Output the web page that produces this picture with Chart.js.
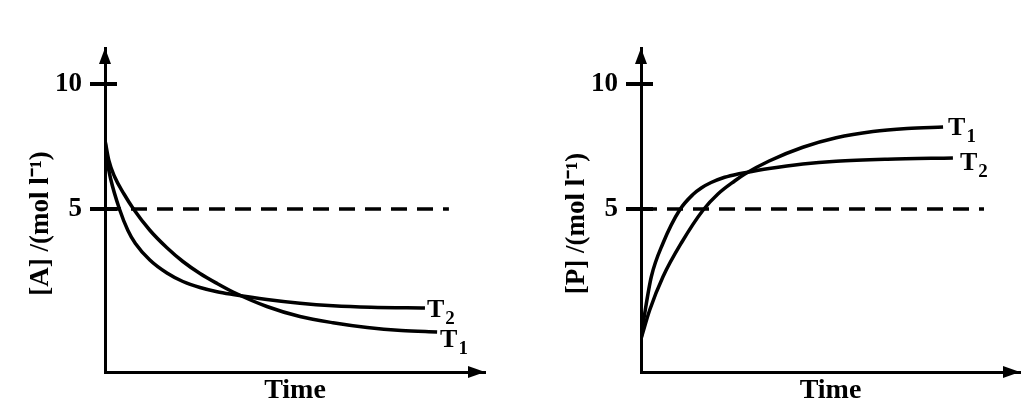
<!DOCTYPE html>
<html lang="en">
<head>
  <meta charset="UTF-8"/>
  <title>[A] and [P] against Time at T1 and T2</title>
  <script src="https://cdn.jsdelivr.net/npm/chart.js"></script>
  <style>
    body { margin: 0; background: #fff; width: 1033px; height: 412px; position: relative; overflow: hidden; }
    .panel { position: absolute; top: 0; }
  </style>
</head>
<body>
  <div class="panel" style="left:0"><canvas id="chartA" width="500" height="412"></canvas></div>
  <div class="panel" style="left:536px"><canvas id="chartP" width="497" height="412"></canvas></div>

  <script>
    // axis settings (arbitrary time units 0..100)
    const yTicks = [5, 10];
    const yMin = -1.52, yMax = 11.44;
    const timeMax = 100;
    const refLevel = 5;       // dashed line
    const refEnd = 90.5;

    // [A] decays
    const timeA1 = [0, 1, 2.5, 5, 7.5, 11.8, 16.3, 20.5, 25, 29.5, 33.7, 42.6, 51.3, 60, 69, 78, 87.4];
    const concA1 = [7.76, 6.95, 6.3, 5.6, 5.0, 4.15, 3.45, 2.9, 2.42, 2.02, 1.68, 1.1, 0.7, 0.45, 0.26, 0.14, 0.08];
    const timeA2 = [0, 0.5, 1.5, 3.8, 6, 8, 11.8, 16.3, 20.5, 25, 29.5, 33.7, 42.6, 51.3, 60, 70, 84.2];
    const concA2 = [7.76, 7.0, 6.2, 5.0, 4.15, 3.62, 2.96, 2.44, 2.1, 1.86, 1.69, 1.58, 1.38, 1.23, 1.13, 1.07, 1.04];

    // [P] grows
    const timeP1 = [0, 2.3, 5.8, 10.6, 16.4, 20.3, 24.7, 27.4, 33.8, 42.7, 51.5, 61.2, 70.2, 79.7];
    const concP1 = [-0.2, 0.96, 2.29, 3.63, 4.96, 5.6, 6.12, 6.4, 6.92, 7.47, 7.85, 8.1, 8.22, 8.28];
    const timeP2 = [0, 1.13, 2.72, 5.8, 10.2, 13.7, 16, 18.5, 21.5, 24.8, 27.4, 33.8, 42.7, 51.5, 65, 82.3];
    const concP2 = [-0.2, 0.96, 2.29, 3.63, 4.96, 5.58, 5.85, 6.06, 6.24, 6.37, 6.45, 6.62, 6.8, 6.91, 6.99, 7.04];

    const serif = '"Liberation Serif", "Times New Roman", serif';
    const pts = (xs, ys) => xs.map((x, i) => ({ x, y: ys[i] }));

    // arrowheads, inner half of the y ticks and the T1/T2 tags
    const axisDecor = {
      id: 'axisDecor',
      afterDraw(chart) {
        const { ctx, chartArea: { left, top, right, bottom }, scales: { y } } = chart;
        ctx.save();
        ctx.fillStyle = '#000';
        ctx.strokeStyle = '#000';

        ctx.beginPath();
        ctx.moveTo(left, top);
        ctx.lineTo(left - 6, top + 16);
        ctx.lineTo(left + 6, top + 16);
        ctx.closePath();
        ctx.fill();

        ctx.beginPath();
        ctx.moveTo(right, bottom);
        ctx.lineTo(right - 17, bottom - 6);
        ctx.lineTo(right - 17, bottom + 6);
        ctx.closePath();
        ctx.fill();

        ctx.lineWidth = 4;
        y.ticks.forEach(t => {
          const py = y.getPixelForValue(t.value);
          ctx.beginPath();
          ctx.moveTo(left, py);
          ctx.lineTo(left + 12, py);
          ctx.stroke();
        });

        chart.data.datasets.forEach((ds, i) => {
          if (!ds.tag) return;
          const els = chart.getDatasetMeta(i).data;
          const last = els[els.length - 1];
          const x = last.x + ds.tagDx;
          const base = last.y + ds.tagDy + 9;
          ctx.textAlign = 'left';
          ctx.textBaseline = 'alphabetic';
          ctx.font = 'bold 26px ' + serif;
          ctx.fillText('T', x, base);
          const w = ctx.measureText('T').width;
          ctx.font = 'bold 19px ' + serif;
          ctx.fillText(ds.tag, x + w + 1, base + 7);
        });
        ctx.restore();
      }
    };

    function curve(xs, ys, tag, dx, dy) {
      return {
        data: pts(xs, ys),
        borderColor: '#000',
        borderWidth: 3.5,
        pointRadius: 0,
        cubicInterpolationMode: 'monotone',
        tag, tagDx: dx, tagDy: dy
      };
    }

    function makeChart(id, yTitle, datasets, padRight) {
      const ctx = document.getElementById(id).getContext('2d');
      return new Chart(ctx, {
        type: 'line',
        data: {
          datasets: [
            ...datasets,
            {
              data: [{ x: 0, y: refLevel }, { x: refEnd, y: refLevel }],
              borderColor: '#000',
              borderWidth: 3.5,
              borderDash: [16, 10],
              pointRadius: 0
            }
          ]
        },
        options: {
          responsive: false,
          animation: false,
          layout: { padding: { top: 48, right: padRight, left: 0, bottom: 0 } },
          plugins: { legend: { display: false }, tooltip: { enabled: false } },
          scales: {
            x: {
              type: 'linear',
              min: 0,
              max: timeMax,
              grid: { display: false },
              border: { display: true, color: '#000', width: 3 },
              ticks: { display: false },
              title: {
                display: true,
                text: 'Time',
                color: '#000',
                font: { family: serif, size: 28, weight: 'bold' },
                padding: { top: 0, bottom: 4 }
              },
              afterFit(scale) { scale.height = 40; }
            },
            y: {
              type: 'linear',
              min: yMin,
              max: yMax,
              afterBuildTicks(scale) { scale.ticks = yTicks.map(v => ({ value: v })); },
              grid: {
                drawOnChartArea: false,
                drawTicks: true,
                tickLength: 15,
                tickWidth: 4,
                lineWidth: 4,
                tickColor: '#000',
                color: '#000'
              },
              border: { display: true, color: '#000', width: 3 },
              ticks: {
                color: '#000',
                padding: 8,
                font: { family: serif, size: 27, weight: 'bold' },
                callback: v => String(v)
              },
              title: {
                display: true,
                text: yTitle,
                color: '#000',
                font: { family: serif, size: 27, weight: 'bold' },
                padding: { top: 25, bottom: 0 }
              },
              afterFit(scale) { scale.width = 105; }
            }
          }
        },
        plugins: [axisDecor]
      });
    }

    makeChart('chartA', '[A] /(mol l\u207B\u00B9)    ', [
      curve(timeA1, concA1, '1', 3, 6),
      curve(timeA2, concA2, '2', 2, 0)
    ], 15);

    makeChart('chartP', '[P] /(mol l\u207B\u00B9)    ', [
      curve(timeP1, concP1, '1', 5, -1),
      curve(timeP2, concP2, '2', 7, 3)
    ], 13);
  </script>
</body>
</html>
